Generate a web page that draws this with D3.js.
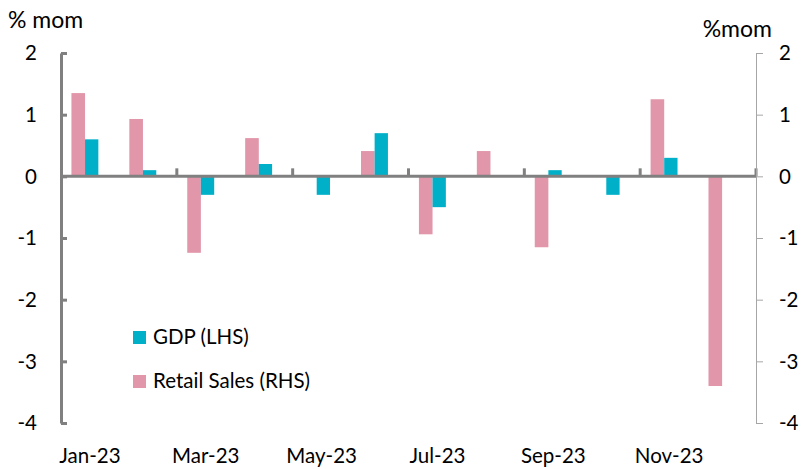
<!DOCTYPE html>
<html><head><meta charset="utf-8">
<script src="https://cdn.jsdelivr.net/npm/d3@7"></script>
<style>body{margin:0;background:#fff}svg{display:block}text{font-family:Lato,"Open Sans",sans-serif;fill:#000}</style>
</head><body><svg id="c" width="804" height="469"></svg>
<script>
const months = ["Jan-23","Feb-23","Mar-23","Apr-23","May-23","Jun-23","Jul-23","Aug-23","Sep-23","Oct-23","Nov-23","Dec-23"];
const gdp = [0.6,0.1,-0.3,0.2,-0.3,0.7,-0.5,0,0.1,-0.3,0.3,0];
const retail = [1.35,0.93,-1.24,0.62,0,0.41,-0.94,0.41,-1.15,0,1.25,-3.4];
const yTicks = [2,1,0,-1,-2,-3,-4];
const xLabels = ["Jan-23","Mar-23","May-23","Jul-23","Sep-23","Nov-23"];

const svg = d3.select("#c");
const x = d3.scaleBand().domain(months).range([61,756]).padding(0);
const yL = d3.scaleLinear().domain([-4,2]).range([423,53]);
const yR = d3.scaleLinear().domain([-4,2]).range([423,53]);
const bw = x.bandwidth();
const pinkC = "#e196aa", tealC = "#00b0c8", axC = "#808080";
const fs = 20.5;

// bars
svg.append("g").selectAll("rect").data(months).join("rect")
  .attr("x", d => x(d) + bw*0.18).attr("width", bw*0.235)
  .attr("y", (d,i) => yR(Math.max(0,retail[i]))).attr("height",(d,i)=>Math.abs(yR(retail[i])-yR(0)))
  .attr("fill", pinkC);
svg.append("g").selectAll("rect").data(months).join("rect")
  .attr("x", d => x(d) + bw*0.415).attr("width", bw*0.23)
  .attr("y", (d,i) => yL(Math.max(0,gdp[i]))).attr("height",(d,i)=>Math.abs(yL(gdp[i])-yL(0)))
  .attr("fill", tealC);

// zero line with category ticks
const zg = svg.append("g");
zg.append("line").attr("x1",61).attr("x2",756).attr("y1",yL(0)).attr("y2",yL(0)).attr("stroke",axC).attr("stroke-width",3);
const tickPos = months.filter((d,i)=>i%2===0).map(d=>x(d)).concat([756]).slice(1);
zg.selectAll("line.t").data(tickPos).join("line").attr("class","t")
  .attr("x1",d=>d).attr("x2",d=>d).attr("y1",yL(0)).attr("y2",yL(0)-8).attr("stroke",axC).attr("stroke-width",3);

// left axis
const la = svg.append("g").attr("transform","translate(61,0)")
  .call(d3.axisRight(yL).tickValues(yTicks).tickSize(6).tickSizeOuter(0).tickFormat(""));
la.select(".domain").attr("stroke",axC).attr("stroke-width",3);
la.selectAll(".tick line").attr("stroke",axC).attr("stroke-width",3);
svg.append("g").selectAll("text").data(yTicks).join("text")
  .attr("x",37).attr("y",d=>yL(d)).attr("dy","0.36em").attr("text-anchor","end")
  .attr("font-size",fs).text(d=>d);

// right axis
const ra = svg.append("g").attr("transform","translate(756,0)")
  .call(d3.axisRight(yR).tickValues(yTicks).tickSize(7).tickSizeOuter(0).tickFormat(""));
ra.select(".domain").attr("stroke","#a6a6a6").attr("stroke-width",1);
ra.selectAll(".tick line").attr("stroke","#a6a6a6").attr("stroke-width",1);
svg.append("g").selectAll("text").data(yTicks).join("text")
  .attr("x",779).attr("y",d=>yR(d)).attr("dy","0.36em").attr("text-anchor","start")
  .attr("font-size",fs).text(d=>d);

// x labels
svg.append("g").selectAll("text").data(xLabels).join("text")
  .attr("x",d=>x(d)+bw/2).attr("y",463).attr("text-anchor","middle")
  .attr("font-size",fs).text(d=>d);

// titles
svg.append("text").attr("x",8).attr("y",28).attr("font-size",23).text("% mom");
svg.append("text").attr("x",772).attr("y",37).attr("text-anchor","end").attr("font-size",23).text("%mom");

// legend
const leg = [{n:"GDP (LHS)",c:tealC,y:337},{n:"Retail Sales (RHS)",c:pinkC,y:381}];
const lg = svg.append("g");
lg.selectAll("rect").data(leg).join("rect").attr("x",133).attr("y",d=>d.y-6).attr("width",13).attr("height",13).attr("fill",d=>d.c);
lg.selectAll("text").data(leg).join("text").attr("x",153).attr("y",d=>d.y).attr("dy","0.36em").attr("font-size",fs).text(d=>d.n);
</script></body></html>
